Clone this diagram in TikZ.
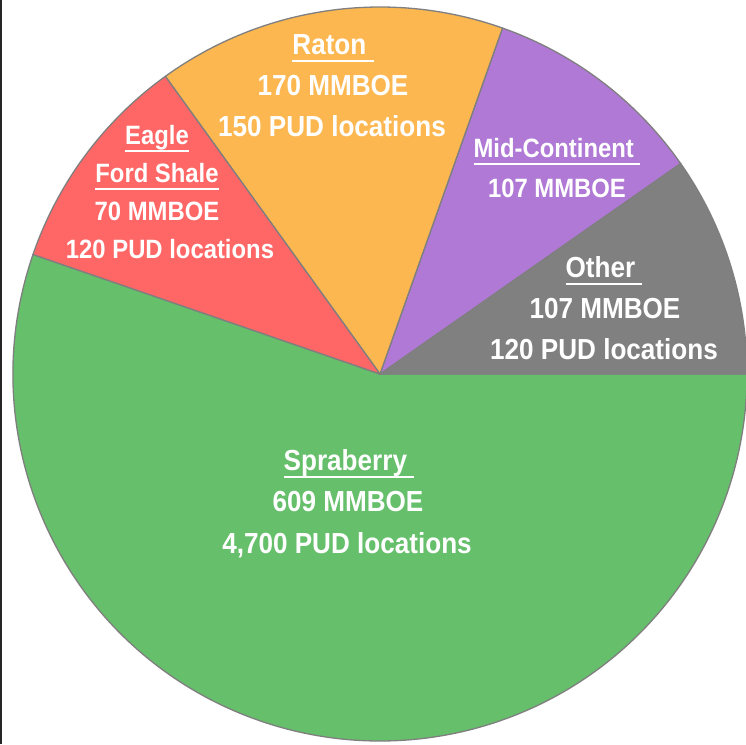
\documentclass[tikz,border=0pt]{standalone}
\usepackage{fontspec}
\setmainfont[FakeStretch=0.9]{Liberation Sans}
\definecolor{sprgreen}{HTML}{66BF6B}
\definecolor{eaglered}{HTML}{FF6666}
\definecolor{ratonorange}{HTML}{FDB751}
\definecolor{midpurple}{HTML}{AF79D5}
\definecolor{othergrey}{HTML}{808080}
\definecolor{edgegrey}{HTML}{7F7F7F}
% underlined heading, the rule also covers the trailing space
\newcommand\headline[1]{\setbox0\hbox{#1\ }\leavevmode\rlap{\rule[-7pt]{\wd0}{2pt}}\box0}
% underlined heading without trailing space
\newcommand\headtight[1]{\setbox0\hbox{#1}\leavevmode\rlap{\rule[-7pt]{\wd0}{2pt}}\box0}
\begin{document}
\begin{tikzpicture}[x=1pt,y=1pt,
  slice/.style={draw=edgegrey,line width=1.3pt,line join=round},
  big/.style={text=white,anchor=base,inner sep=0pt,font=\fontsize{29}{34}\selectfont\bfseries},
  small/.style={text=white,anchor=base,inner sep=0pt,font=\fontsize{26.5}{31}\selectfont\bfseries}]
\useasboundingbox (0,0) rectangle (746,744);
\fill[white] (0,0) rectangle (746,744);
\draw[line width=2pt,color=black!85] (1,0) -- (1,744);
\coordinate (c) at (380,370);
\def\R{367}
% pie slices
\filldraw[slice,fill=sprgreen]    (c) -- ++(161:\R) arc[start angle=161,end angle=360,radius=\R] -- cycle;
\filldraw[slice,fill=othergrey]   (c) -- ++(0:\R) arc[start angle=0,end angle=35,radius=\R] -- cycle;
\filldraw[slice,fill=midpurple]   (c) -- ++(35:\R) arc[start angle=35,end angle=70.5,radius=\R] -- cycle;
\filldraw[slice,fill=ratonorange] (c) -- ++(70.5:\R) arc[start angle=70.5,end angle=125.8,radius=\R] -- cycle;
\filldraw[slice,fill=eaglered]    (c) -- ++(125.8:\R) arc[start angle=125.8,end angle=161,radius=\R] -- cycle;
% labels
\node[big] (raton1) at (333,689) {\headline{Raton}};
\node[big] (raton2) at (333,648) {170 MMBOE};
\node[big] (raton3) at (332,607) {150 PUD locations};
\node[small] (eagle1) at (157,599) {\headtight{Eagle}};
\node[small] (eagle2) at (157,561) {\headtight{Ford Shale}};
\node[small] (eagle3) at (157,523) {70 MMBOE};
\node[small] (eagle4) at (170,485) {120 PUD locations};
\node[small] (mid1) at (557,586) {\headline{Mid-Continent}};
\node[small] (mid2) at (557,546) {107 MMBOE};
\node[big] (other1) at (604,466) {\headline{Other}};
\node[big] (other2) at (605,425) {107 MMBOE};
\node[big] (other3) at (604,384) {120 PUD locations};
\node[big] (spr1) at (349,273) {\headline{Spraberry}};
\node[big] (spr2) at (348,232) {609 MMBOE};
\node[big] (spr3) at (347,190) {4,700 PUD locations};
\end{tikzpicture}
\end{document}
